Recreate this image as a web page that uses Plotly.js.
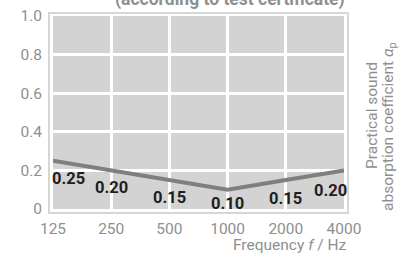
<!DOCTYPE html>
<html>
<head>
<meta charset="utf-8">
<script src="https://cdn.plot.ly/plotly-3.0.1.min.js"></script>
<style>html,body{margin:0;padding:0;background:#fff;}#chart{width:405px;height:255px;}</style>
</head>
<body>
<div id="chart"></div>
<script>
const frequencies = [125, 250, 500, 1000, 2000, 4000];
const alphaP = [0.25, 0.20, 0.15, 0.10, 0.15, 0.20];
const alphaLabels = ['0.25', '0.20', '0.15', '0.10', '0.15', '0.20'];
const yTickVals = [0, 0.2, 0.4, 0.6, 0.8, 1.0];
const yTickText = ['0', '0.2', '0.4', '0.6', '0.8', '1.0'];
const xTickText = ['125', '250', '500', '1000', '2000', '4000'];

const FONT = 'Roboto, "Liberation Sans", Arial, sans-serif';
const GREY = '#8f8f8f';

// label offsets (pixels) relative to each point
const labelDX = [15, 0, 0, 0, 0, -14];
const labelDY = [-18, -17, -17, -14, -18, -20];

const line = {
  x: frequencies, y: alphaP, type: 'scatter', mode: 'lines',
  line: {color: '#7f7f7f', width: 4}, hoverinfo: 'skip', cliponaxis: false
};

const valueAnnotations = frequencies.map((f, i) => ({
  x: Math.log10(f), y: alphaP[i], xref: 'x', yref: 'y',
  text: alphaLabels[i], showarrow: false,
  xanchor: 'center', yanchor: 'middle',
  xshift: labelDX[i], yshift: labelDY[i],
  font: {family: FONT, size: 16.5, color: '#1e1e1e', weight: 'bold'}
}));

const layout = {
  width: 405, height: 255,
  margin: {l: 53, r: 61, t: 16, b: 46},
  paper_bgcolor: '#ffffff', plot_bgcolor: '#d3d3d3',
  showlegend: false,
  font: {family: FONT, color: GREY, size: 15.5},
  xaxis: {
    type: 'log', range: [Math.log10(125), Math.log10(4000)],
    tickvals: frequencies, ticktext: xTickText,
    showgrid: true, gridcolor: '#ffffff', gridwidth: 3,
    zeroline: false, showline: false, ticks: '',
    ticklabelstandoff: 8,
    tickfont: {family: FONT, size: 15.5, color: GREY}
  },
  yaxis: {
    range: [0, 1], tickvals: yTickVals, ticktext: yTickText,
    showgrid: true, gridcolor: '#ffffff', gridwidth: 3,
    zeroline: false, showline: false, ticks: '',
    ticklabelstandoff: 10,
    tickfont: {family: FONT, size: 15.5, color: GREY}
  },
  shapes: [{
    type: 'rect', xref: 'paper', yref: 'paper',
    x0: -4/291, x1: 1 + 4/291, y0: -4/193, y1: 1 + 3/193,
    line: {color: '#d6d6d6', width: 2}, fillcolor: 'rgba(0,0,0,0)', layer: 'below'
  }],
  annotations: valueAnnotations.concat([
    {
      text: '<b>(according to test certificate)</b>', xref: 'paper', yref: 'paper',
      x: (230 - 53) / 291, y: (209 + 0) / 193, xanchor: 'center', yanchor: 'middle', showarrow: false,
      font: {family: FONT, size: 17.5, color: GREY}
    },
    {
      text: 'Frequency <i>f</i> / Hz', xref: 'paper', yref: 'paper',
      x: (349 - 53) / 291, y: (209 - 245) / 193, xanchor: 'right', yanchor: 'middle', showarrow: false,
      font: {family: FONT, size: 15.5, color: GREY}
    },
    {
      text: 'Practical sound', xref: 'paper', yref: 'paper',
      x: (372 - 53) / 291, y: (209 - 116) / 193, xanchor: 'center', yanchor: 'middle', showarrow: false,
      textangle: -90,
      font: {family: FONT, size: 15.5, color: GREY}
    },
    {
      text: 'absorption coefficient <i>α</i><sub>p</sub>', xref: 'paper', yref: 'paper',
      x: (389 - 53) / 291, y: (209 - 126) / 193, xanchor: 'center', yanchor: 'middle', showarrow: false,
      textangle: -90,
      font: {family: FONT, size: 15.5, color: GREY}
    }
  ])
};

Plotly.newPlot('chart', [line], layout, {displayModeBar: false, staticPlot: true});
</script>
</body>
</html>
